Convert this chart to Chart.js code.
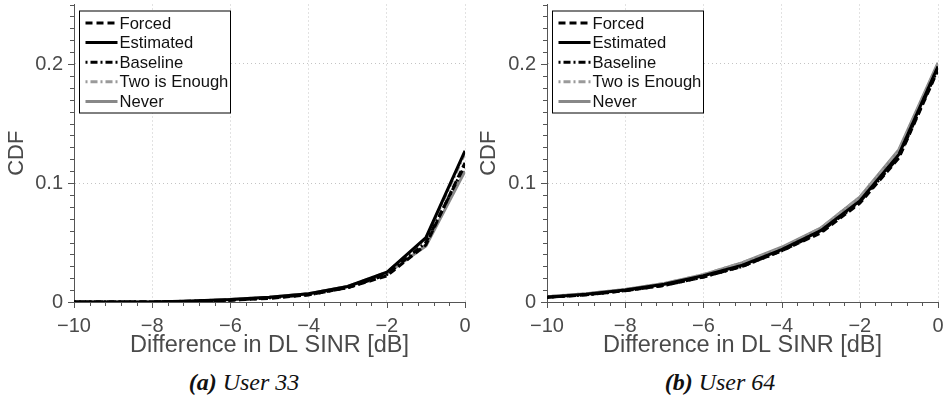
<!DOCTYPE html>
<html>
<head>
<meta charset="utf-8">
<script src="https://cdn.jsdelivr.net/npm/chart.js@4"></script>
<style>
  body { margin: 0; background: #fff; width: 944px; height: 400px; position: relative; overflow: hidden; }
  .panel { position: absolute; top: 0; width: 472px; height: 400px; }
  .panel canvas { position: absolute; left: 0; top: 0; }
  .caption { position: absolute; top: 369px; left: 0; width: 100%; text-align: center;
    font-family: "Liberation Serif", serif; font-style: italic; font-size: 24px; color: #111; }
</style>
</head>
<body>
<div class="panel" style="left:0">
  <canvas id="chartA" width="472" height="360"></canvas>
  <div class="caption" style="padding-left:8px"><b>(a)</b> User 33</div>
</div>
<div class="panel" style="left:472px">
  <canvas id="chartB" width="472" height="360"></canvas>
  <div class="caption" style="padding-left:12px"><b>(b)</b> User 64</div>
</div>
<script>
// === DATA ===
const sinrDiff = [-10, -9, -8, -7, -6, -5, -4, -3, -2, -1, 0];
const seriesNames = ["Forced", "Estimated", "Baseline", "Two is Enough", "Never"];

// User 33
const forced33   = [0, 0, 0, 0.0005, 0.0015, 0.003, 0.006, 0.012, 0.022, 0.048, 0.117];
const estimated33 = [0, 0, 0, 0.0008, 0.002, 0.004, 0.007, 0.013, 0.025, 0.054, 0.127];
const baseline33 = [0, 0, 0, 0.0006, 0.0015, 0.0035, 0.006, 0.012, 0.023, 0.050, 0.115];
const twoEnough33 = [0, 0, 0, 0.0008, 0.002, 0.004, 0.007, 0.013, 0.025, 0.053, 0.125];
const never33    = [0, 0, 0, 0.0007, 0.002, 0.004, 0.007, 0.013, 0.024, 0.047, 0.110];

// User 64
const forced64   = [0.004, 0.006, 0.0095, 0.014, 0.021, 0.030, 0.043, 0.058, 0.083, 0.121, 0.195];
const estimated64 = [0.004, 0.0065, 0.010, 0.015, 0.022, 0.031, 0.044, 0.060, 0.085, 0.124, 0.198];
const baseline64 = [0.004, 0.006, 0.0095, 0.014, 0.021, 0.030, 0.043, 0.059, 0.084, 0.122, 0.196];
const twoEnough64 = [0.0045, 0.007, 0.0105, 0.0155, 0.023, 0.033, 0.045, 0.062, 0.088, 0.127, 0.200];
const never64    = [0.0045, 0.007, 0.0105, 0.0155, 0.023, 0.033, 0.046, 0.062, 0.088, 0.128, 0.201];

const xMajor = [-10, -8, -6, -4, -2, 0];
const yMajor = [0, 0.1, 0.2];

// line styles: black dashed, black solid, black dash-dot, gray dash-dot, gray solid
const styles = [
  { color: "#000000", dash: [7, 4] },
  { color: "#000000", dash: [] },
  { color: "#000000", dash: [2, 3, 7, 3] },
  { color: "#9a9a9a", dash: [2, 3, 7, 3] },
  { color: "#888888", dash: [] }
];

const axisGray = "#555555";
const textGray = "#4a4a4a";

function fmt(v) {
  if (Math.abs(v) < 1e-9) return "0";
  const s = Math.abs(v).toString();
  return v < 0 ? "\u2212" + s : s;
}

// minor ticks + legend box, drawn after the chart
const extrasPlugin = {
  id: "extras",
  afterDraw(chart) {
    const ctx = chart.ctx;
    const xs = chart.scales.x, ys = chart.scales.y;
    const area = chart.chartArea;
    ctx.save();
    ctx.strokeStyle = axisGray;
    ctx.lineWidth = 1;
    ctx.beginPath();
    for (let i = 0; i <= 25; i++) {
      const v = -10 + i * 0.4;
      const px = Math.round(xs.getPixelForValue(v)) + 0.5;
      const major = Math.abs(v - Math.round(v)) < 1e-6 && Math.round(v) % 2 === 0;
      ctx.moveTo(px, area.bottom);
      ctx.lineTo(px, area.bottom + (major ? 6 : 4));
    }
    for (let i = 0; i <= 25; i++) {
      const v = i * 0.01;
      const py = Math.round(ys.getPixelForValue(v)) + 0.5;
      const major = i % 10 === 0;
      ctx.moveTo(area.left, py);
      ctx.lineTo(area.left - (major ? 6 : 4), py);
    }
    ctx.stroke();

    // legend
    const bx = area.left + 5.5, by = area.top + 6.5, bw = 151, bh = 102;
    ctx.fillStyle = "#ffffff";
    ctx.fillRect(bx, by, bw, bh);
    ctx.strokeStyle = "#000";
    ctx.lineWidth = 1;
    ctx.strokeRect(bx, by, bw, bh);
    ctx.font = "16.6px 'Liberation Sans', Arial, sans-serif";
    ctx.textBaseline = "middle";
    ctx.fillStyle = "#111";
    chart.data.datasets.forEach((ds, i) => {
      const y = by + 12 + i * 19.6;
      ctx.beginPath();
      ctx.strokeStyle = ds.borderColor;
      ctx.lineWidth = 3;
      ctx.setLineDash(ds.borderDash);
      ctx.moveTo(bx + 6, y);
      ctx.lineTo(bx + 38, y);
      ctx.stroke();
      ctx.setLineDash([]);
      ctx.fillText(ds.label, bx + 40, y + 1);
    });
    ctx.restore();
  }
};

function makeChart(id, seriesList, yAxisWidth, rightPad) {
  const datasets = seriesList.map((vals, i) => ({
    label: seriesNames[i],
    data: sinrDiff.map((x, k) => ({ x: x, y: vals[k] })),
    borderColor: styles[i].color,
    borderDash: styles[i].dash,
    borderWidth: 3,
    pointRadius: 0,
    tension: 0,
    fill: false
  }));

  new Chart(document.getElementById(id).getContext("2d"), {
    type: "line",
    data: { datasets: datasets },
    options: {
      responsive: false,
      animation: false,
      events: [],
      layout: { padding: { top: 4.5, right: rightPad, left: 0, bottom: 0 } },
      plugins: { legend: { display: false }, tooltip: { enabled: false } },
      scales: {
        x: {
          type: "linear",
          min: -10,
          max: 0,
          afterBuildTicks: (scale) => { scale.ticks = xMajor.map(v => ({ value: v })); },
          afterFit: (scale) => { scale.height = 58; scale.paddingLeft = 0; scale.paddingRight = 0; },
          ticks: {
            callback: (v) => fmt(v),
            color: textGray,
            font: { family: "'Liberation Sans', Arial, sans-serif", size: 20 },
            padding: 12,
            maxRotation: 0,
            autoSkip: false
          },
          grid: { color: "#c4c4c4", lineWidth: 1, drawTicks: false },
          border: { display: true, color: axisGray, width: 1, dash: [1, 3] },
          title: {
            display: true,
            text: "Difference in DL SINR [dB]",
            color: textGray,
            font: { family: "'Liberation Sans', Arial, sans-serif", size: 23.5 },
            padding: { top: 0, bottom: 0 }
          }
        },
        y: {
          type: "linear",
          min: 0,
          max: 0.25,
          afterBuildTicks: (scale) => { scale.ticks = yMajor.map(v => ({ value: v })); },
          afterFit: (scale) => { scale.width = yAxisWidth; scale.paddingTop = 0; scale.paddingBottom = 0; },
          ticks: {
            callback: (v) => fmt(v),
            color: textGray,
            font: { family: "'Liberation Sans', Arial, sans-serif", size: 20 },
            padding: 11
          },
          grid: { color: "#c4c4c4", lineWidth: 1, drawTicks: false },
          border: { display: true, color: axisGray, width: 1, dash: [1, 3] },
          title: {
            display: true,
            text: "CDF",
            color: textGray,
            font: { family: "'Liberation Sans', Arial, sans-serif", size: 22 },
            padding: { top: 4, bottom: 0 }
          }
        }
      }
    },
    plugins: [extrasPlugin]
  });
}

makeChart("chartA", [forced33, estimated33, baseline33, twoEnough33, never33], 74, 7);
makeChart("chartB", [forced64, estimated64, baseline64, twoEnough64, never64], 75, 6);
</script>
</body>
</html>
